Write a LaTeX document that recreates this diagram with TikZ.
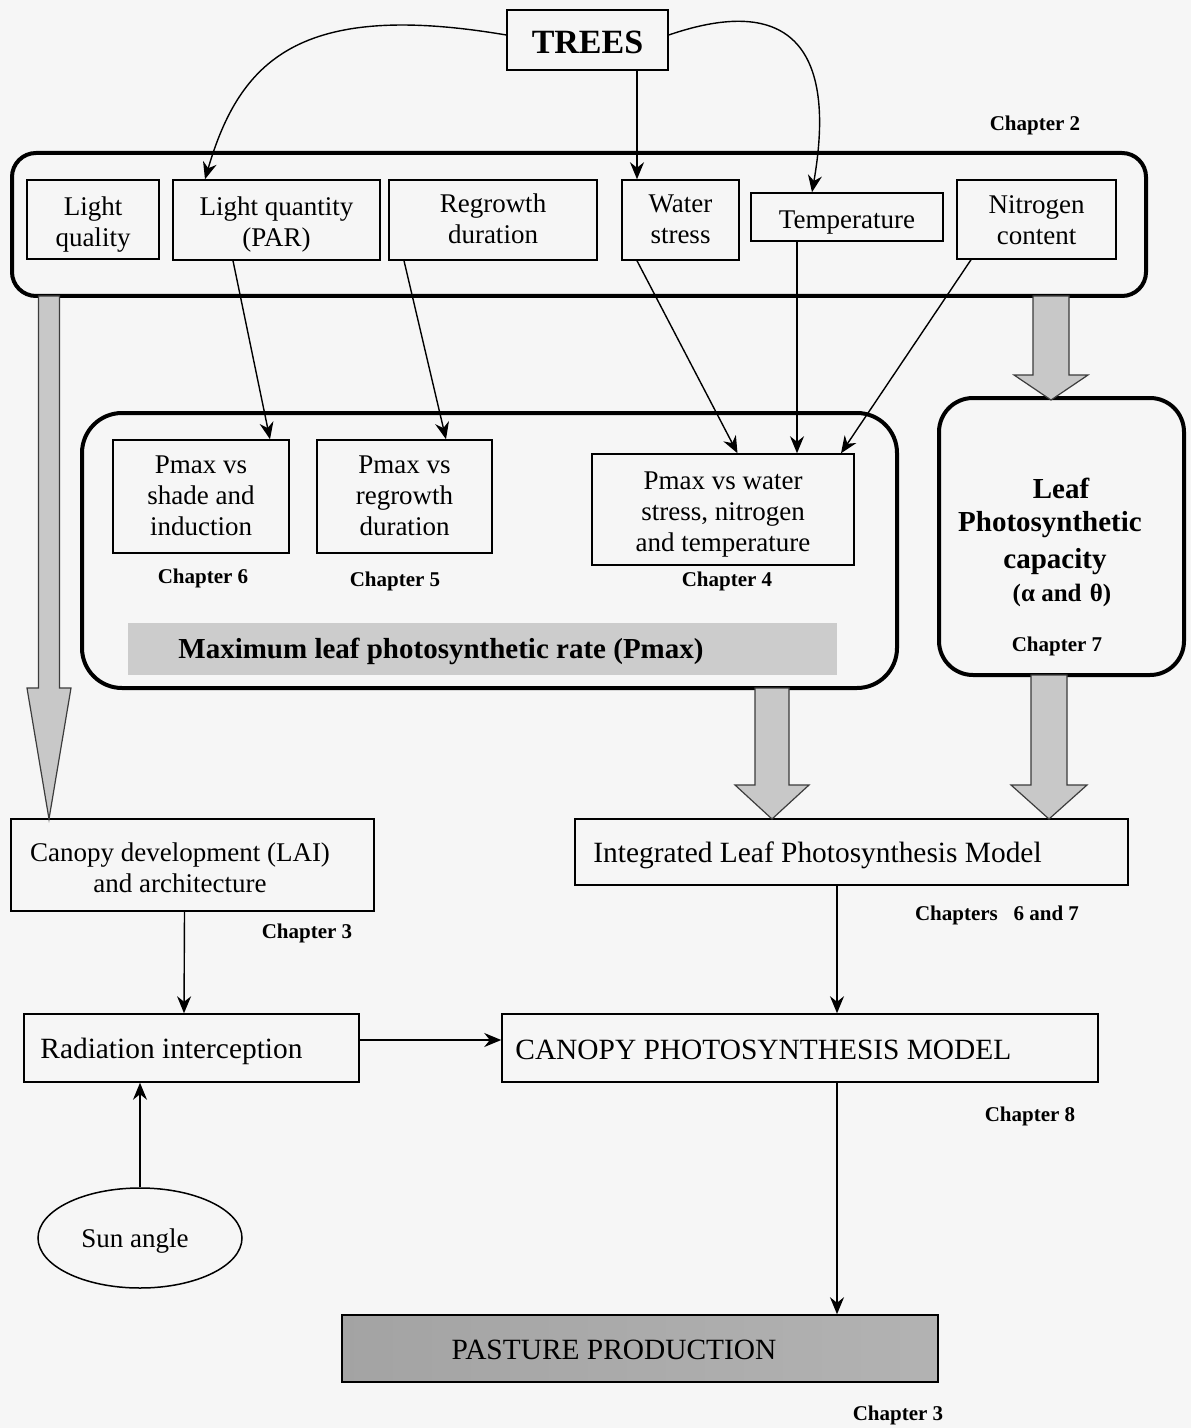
\documentclass[tikz,border=0pt]{standalone}
\usepackage{fontspec}
\setmainfont{Liberation Serif}
\usetikzlibrary{arrows.meta,shapes.geometric}
\definecolor{bgc}{RGB}{246,246,246}
\definecolor{garr}{RGB}{200,200,200}
\definecolor{garrline}{RGB}{60,60,60}
\newcommand\gblockarrow[6]{% cx, ytop, ytip, half shaft, half head, head length (px)
  \draw[garrowstyle] ({#1-#4},#2) -- ({#1+#4},#2) -- ({#1+#4},{#3-#6}) -- ({#1+#5},{#3-#6}) -- (#1,#3) -- ({#1-#5},{#3-#6}) -- ({#1-#4},{#3-#6}) -- cycle;}
\newcommand\bx[2][1pt]{\raisebox{-#1}[\height][\depth]{\begin{tabular}{@{}c@{}}#2\end{tabular}}}
\begin{document}
\begin{tikzpicture}[x=0.5pt,y=-0.5pt,
  box/.style={draw, line width=0.75pt, inner sep=0pt, align=center, font=\fontsize{13.5}{15.5}\selectfont},
  bigbox/.style={draw, line width=2pt, inner sep=0pt},
  chap/.style={font=\fontsize{10.5}{12}\selectfont\bfseries, inner sep=0pt},
  big/.style={font=\fontsize{14.7}{17}\selectfont, inner sep=0pt},
  bold/.style={font=\fontsize{14.5}{17}\selectfont\bfseries, inner sep=0pt},
  arr/.style={-{Stealth[length=8.5pt,width=7pt]}, line width=0.7pt},
  garrowstyle/.style={fill=garr, draw=garrline, line width=0.6pt}]
\fill[bgc] (0,0) rectangle (1191,1428);
\useasboundingbox (0,0) rectangle (1191,1428);

% top
\node[box, font=\fontsize{17}{20}\selectfont\bfseries, minimum width=80.5pt, minimum height=30pt] (trees) at (587.5,40) {\raisebox{-1pt}[\height][\depth]{TREES}};
\node[bigbox, rounded corners=12pt, minimum width=567pt, minimum height=71.5pt] (factors) at (579,224.5) {};
\node[chap] (ch2) at (1035,125) {Chapter 2};
\node[box, minimum width=66pt, minimum height=39.5pt] (lq) at (93,219.5) {\bx[2.5pt]{Light\\quality}};
\node[box, minimum width=103.5pt, minimum height=40pt] (par) at (276.5,220) {\bx[2.5pt]{Light quantity\\(PAR)}};
\node[box, minimum width=104pt, minimum height=40pt] (regrowth) at (493,220) {\bx{Regrowth\\duration}};
\node[box, minimum width=58.5pt, minimum height=40pt] (water) at (680.5,220) {\bx{Water\\stress}};
\node[box, minimum width=96pt, minimum height=24pt] (temp) at (847,217) {\bx[2.5pt]{Temperature}};
\node[box, minimum width=79.5pt, minimum height=39.5pt] (nitro) at (1036.5,219.5) {\bx[1.5pt]{Nitrogen\\content}};

% middle
\node[bigbox, rounded corners=20pt, minimum width=407.5pt, minimum height=137.5pt] (pmaxbox) at (489.5,550.5) {};
\node[box, minimum width=88pt, minimum height=56.5pt] (shade) at (201,496.5) {\bx{Pmax vs\\shade and\\induction}};
\node[box, minimum width=87.5pt, minimum height=56.5pt] (regr2) at (404.5,496.5) {\bx{Pmax vs\\regrowth\\duration}};
\node[box, minimum width=131pt, minimum height=55.5pt] (water2) at (723,509.5) {\bx[2.5pt]{Pmax vs water\\stress, nitrogen\\and temperature}};
\node[chap] (ch6) at (203,578) {Chapter 6};
\node[chap] (ch5) at (395,581) {Chapter 5};
\node[chap] (ch4) at (727,581) {Chapter 4};
\node[fill=gray!40, minimum width=354.5pt, minimum height=26pt, inner sep=0pt] (pmaxbar) at (482.5,649) {};
\node[bold, anchor=west] (pmaxtxt) at (178,651) {Maximum leaf photosynthetic rate (Pmax)};

\node[bigbox, rounded corners=17pt, minimum width=122.5pt, minimum height=138.5pt] (leafbox) at (1061.5,536.5) {};
\node[bold] (l1) at (1061,488) {Leaf};
\node[bold] (l2) at (1050,525) {Photosynthetic};
\node[bold] (l3) at (1055,562) {capacity};
\node[font=\fontsize{12.5}{15}\selectfont\bfseries, inner sep=0pt] (l4) at (1062,595) {(α and\,\,θ)};
\node[chap] (ch7) at (1057,646) {Chapter 7};

% lower
\node[box, minimum width=181.5pt, minimum height=46pt] (canopydev) at (192.5,865) {};
\node[align=center, font=\fontsize{13.5}{15.5}\selectfont, inner sep=0pt] (canopydevt) at (180,868) {Canopy development (LAI)\\and architecture};
\node[chap] (ch3a) at (307,933) {Chapter 3};
\node[box, minimum width=276.5pt, minimum height=33pt] (integrated) at (851.5,852) {};
\node[big, anchor=west] (integratedt) at (593,855) {Integrated Leaf Photosynthesis Model};
\node[chap] (ch67) at (997,915) {Chapters\,\,\, 6 and 7};
\node[box, minimum width=167.5pt, minimum height=34pt] (radiation) at (191.5,1048) {};
\node[big, anchor=west] (radiationt) at (40,1051) {Radiation interception};
\node[box, minimum width=298pt, minimum height=34pt] (canopyps) at (800,1048) {};
\node[big, anchor=west] (canopypst) at (515,1050) {CANOPY PHOTOSYNTHESIS MODEL};
\node[chap] (ch8) at (1030,1116) {Chapter 8};
\node[draw, ellipse, line width=0.75pt, minimum width=102pt, minimum height=50pt, inner sep=0pt] (sun) at (140,1238) {};
\node[font=\fontsize{13.5}{15.5}\selectfont, inner sep=0pt] (sunt) at (135,1241) {Sun angle};
\shade[left color=black!36, middle color=black!20, right color=black!30] (342,1315) rectangle (938,1382);
\node[draw, line width=0.75pt, minimum width=298pt, minimum height=33.5pt, inner sep=0pt] (pasture) at (640,1348.5) {};
\node[big] (pasturet) at (614,1350) {PASTURE PRODUCTION};
\node[chap] (ch3b) at (898,1415) {Chapter 3};

% connectors from TREES
\draw[arr] ([yshift=2.5pt]trees.west) .. controls (300,0) and (240,60) .. ([xshift=-35.75pt]par.north);
\draw[arr] ([yshift=2.5pt]trees.east) .. controls (800,-10) and (835,60) .. ([xshift=-17.5pt]temp.north);
\draw[arr] ([xshift=24.75pt]trees.south) -- ([xshift=-21.75pt]water.north);

% factor arrows
\draw[arr] ([xshift=-21.75pt]par.south) -- ([xshift=34.5pt]shade.north);
\draw[arr] ([xshift=-44.5pt]regrowth.south) -- ([xshift=20.75pt]regr2.north);
\draw[arr] ([xshift=-21.75pt]water.south) -- ([xshift=7.25pt]water2.north);
\draw[arr] ([xshift=-25pt]temp.south) -- ([xshift=37pt]water2.north);
\draw[arr] ([xshift=-32.75pt]nitro.south) -- ([xshift=59pt]water2.north);

% block arrows
\gblockarrow{49}{296}{819}{10.5}{22}{131}
\gblockarrow{1051}{296}{400}{18}{37}{25}
\gblockarrow{772}{688}{819}{17}{37}{34}
\gblockarrow{1049}{675}{819}{18}{38}{34}

% lower connectors
\draw[arr] ([xshift=-4pt]canopydev.south) -- ([xshift=-3.75pt]radiation.north);
\draw[arr] ([yshift=4pt]radiation.east) -- ([yshift=4pt]canopyps.west);
\draw[arr] (sun.north) -- (sun.north |- radiation.south);
\draw[arr] ([xshift=-7.25pt]integrated.south) -- ([xshift=-7.25pt]integrated.south |- canopyps.north);
\draw[arr] ([xshift=18.5pt]canopyps.south) -- ([xshift=18.5pt]canopyps.south |- pasture.north);
\end{tikzpicture}
\end{document}
